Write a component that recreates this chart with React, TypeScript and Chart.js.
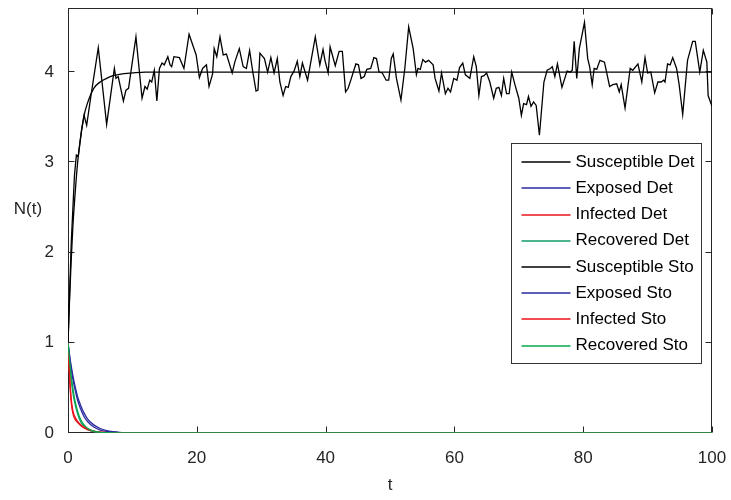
import React, { useEffect, useRef } from "react";
import { Chart, registerables } from "chart.js";

Chart.register(...registerables);

// ---- data ----
const xTicks = [0, 20, 40, 60, 80, 100];
const yTicks = [0, 1, 2, 3, 4];

const seriesLabels = [
  "Susceptible Det",
  "Exposed Det",
  "Infected Det",
  "Recovered Det",
  "Susceptible Sto",
  "Exposed Sto",
  "Infected Sto",
  "Recovered Sto",
];

// deterministic time grid
const tDet = [0, 0.25, 0.5, 0.75, 1, 1.5, 2, 2.5, 3, 4, 5, 6, 7, 8, 10, 12, 15, 20, 50, 100];
const sDet = [1, 1.5, 1.92, 2.28, 2.55, 3.0, 3.3, 3.52, 3.65, 3.82, 3.89, 3.93, 3.96, 3.975, 3.99, 4.0, 4.0, 4.0, 4.0, 4.0];
const eDet = [1, 0.84, 0.71, 0.6, 0.51, 0.36, 0.26, 0.18, 0.13, 0.066, 0.033, 0.017, 0.009, 0.004, 0.001, 0, 0, 0, 0, 0];
const iDet = [1, 0.6, 0.34, 0.22, 0.165, 0.115, 0.08, 0.055, 0.038, 0.018, 0.009, 0.004, 0.002, 0.001, 0, 0, 0, 0, 0, 0];
const rDet = [1, 0.77, 0.59, 0.45, 0.35, 0.21, 0.12, 0.072, 0.043, 0.015, 0.005, 0.002, 0.001, 0, 0, 0, 0, 0, 0, 0];

// stochastic E/I/R (same grid)
const eSto = [1, 0.86, 0.74, 0.64, 0.55, 0.4, 0.3, 0.22, 0.16, 0.09, 0.05, 0.027, 0.015, 0.008, 0.002, 0, 0, 0, 0, 0];
const iSto = [1, 0.64, 0.38, 0.25, 0.19, 0.13, 0.09, 0.062, 0.042, 0.02, 0.01, 0.005, 0.002, 0.001, 0, 0, 0, 0, 0, 0];
const rSto = [1, 0.8, 0.63, 0.5, 0.39, 0.24, 0.145, 0.09, 0.055, 0.02, 0.008, 0.003, 0.001, 0, 0, 0, 0, 0, 0, 0];

// stochastic susceptible path
const tSto = [
  0, 0.5, 1.0, 1.3, 1.6, 2.1, 2.5, 2.9, 3.55, 4.7, 6.0, 7.2, 7.45, 7.8, 8.6, 9.0, 9.4, 10.55, 11.5, 11.95,
  12.3, 12.7, 13.0, 13.4, 13.8, 14.2, 14.6, 14.95, 15.5, 15.85, 16.1, 16.45, 17.3, 18.0, 18.8, 19.9, 20.4, 20.9, 21.5, 21.9,
  22.45, 22.7, 23.1, 23.6, 24.1, 24.6, 25.5, 25.9, 26.6, 27.2, 27.7, 28.2, 28.7, 29.2, 29.5, 29.8, 30.5, 31.0, 31.5, 32.0,
  32.5, 32.9, 33.4, 33.8, 34.2, 34.6, 35.1, 35.6, 36.0, 36.4, 37.2, 37.7, 38.4, 39.1, 39.6, 39.9, 40.4, 40.7, 41.5, 42.1,
  42.6, 43.1, 43.5, 44.0, 44.7, 45.1, 45.5, 46.0, 46.4, 47.0, 47.5, 47.9, 48.3, 48.8, 49.4, 49.8, 50.2, 50.5, 51.0, 51.7,
  52.3, 52.9, 53.6, 54.1, 54.35, 54.7, 55.1, 55.5, 56.0, 56.7, 57.0, 57.6, 58.0, 58.6, 59.0, 59.4, 59.9, 60.4, 60.8, 61.3,
  61.7, 62.4, 63.0, 63.4, 63.8, 64.2, 64.6, 65.0, 65.5, 66.1, 66.5, 66.9, 67.3, 67.65, 68.1, 68.5, 68.9, 69.4, 70.0, 70.4,
  70.75, 71.2, 71.5, 71.9, 72.3, 72.7, 73.2, 73.9, 74.4, 74.9, 75.2, 75.6, 76.0, 76.7, 77.5, 78.0, 78.3, 78.6, 79.0, 79.4,
  80.2, 80.7, 81.0, 81.4, 81.7, 82.1, 82.6, 83.3, 84.1, 84.6, 85.2, 85.6, 85.9, 86.5, 87.3, 87.7, 88.5, 89.1, 89.6, 90.0,
  90.5, 91.1, 91.6, 92.1, 92.5, 92.7, 93.1, 93.5, 93.9, 94.5, 94.9, 95.45, 96.2, 97.0, 97.4, 98.1, 98.65, 99.2, 99.4, 100,
];
const sSto = [
  1, 2.1, 2.85, 3.08, 3.07, 3.35, 3.52, 3.41, 3.73, 4.27, 3.42, 4.04, 3.93, 3.95, 3.68, 3.8, 3.82, 4.39, 3.71, 3.84,
  3.81, 3.91, 3.89, 4.02, 3.68, 4.04, 4.1, 4.08, 4.17, 4.08, 4.06, 4.17, 4.16, 4.04, 4.42, 4.19, 3.94, 4.04, 4.08, 3.84,
  3.98, 4.26, 4.17, 4.39, 4.19, 4.2, 3.99, 4.11, 4.26, 4.06, 4.04, 4.24, 4.0, 3.79, 3.8, 4.21, 4.15, 4.0, 4.16, 3.99,
  4.15, 3.89, 3.74, 3.84, 3.83, 3.95, 4.01, 4.12, 3.95, 4.1, 3.91, 4.11, 4.39, 4.08, 4.25, 4.13, 3.99, 4.28, 4.07, 4.23,
  4.23, 3.78, 3.82, 3.93, 4.09, 4.08, 3.93, 3.95, 4.03, 4.04, 4.16, 4.15, 4.0, 3.99, 3.91, 3.91, 4.15, 4.2, 3.93, 3.69,
  4.04, 4.5, 4.26, 3.97, 4.04, 4.03, 4.14, 4.11, 4.13, 4.08, 3.93, 3.79, 3.99, 3.76, 3.82, 3.78, 3.93, 3.91, 4.05, 4.1,
  3.97, 3.93, 4.17, 4.06, 3.74, 3.95, 3.96, 3.99, 3.89, 3.71, 3.82, 3.83, 3.74, 3.93, 3.76, 3.76, 4.0, 3.86, 3.71, 3.52,
  3.65, 3.64, 3.73, 3.62, 3.67, 3.63, 3.3, 3.89, 4.02, 4.04, 4.06, 3.95, 4.09, 3.83, 4.01, 4.0, 4.02, 4.34, 3.93, 4.26,
  4.55, 4.15, 4.06, 3.86, 4.04, 4.03, 4.13, 4.11, 3.84, 3.86, 3.87, 3.78, 3.86, 3.6, 4.04, 4.02, 4.09, 3.89, 4.16, 3.99,
  4.0, 3.77, 3.89, 3.89, 3.91, 3.89, 4.09, 4.08, 4.16, 4.04, 3.86, 3.53, 4.13, 4.34, 4.34, 4.0, 4.24, 4.11, 3.74, 3.62,
];

const colors = ["#000000", "#2a2aa0", "#e8141c", "#129b68", "#000000", "#2a2aa0", "#ee1018", "#06a84a"];

const FONT = "'Liberation Sans', Arial, Helvetica, sans-serif";
const TEXT = "#262626";

const zip = (xs: number[], ys: number[]) => xs.map((x, i) => ({ x, y: ys[i] }));

const framePlugin = {
  id: "frame",
  beforeDatasetsDraw(chart: any) {
    const { ctx, chartArea } = chart;
    const l = Math.round(chartArea.left) + 0.5;
    const r = Math.round(chartArea.right) - 0.5;
    const t = Math.round(chartArea.top) + 0.5;
    const b = Math.round(chartArea.bottom) - 0.5;
    ctx.save();
    ctx.strokeStyle = TEXT;
    ctx.lineWidth = 1;
    ctx.strokeRect(l, t, r - l, b - t);
    const tl = 6;
    ctx.beginPath();
    const xs = chart.scales.x;
    xTicks.forEach((v) => {
      const px = Math.round(xs.getPixelForValue(v)) + 0.5;
      ctx.moveTo(px, b);
      ctx.lineTo(px, b - tl);
      ctx.moveTo(px, t);
      ctx.lineTo(px, t + tl);
    });
    const ys = chart.scales.y;
    yTicks.forEach((v) => {
      const py = Math.round(ys.getPixelForValue(v)) - 0.5;
      ctx.moveTo(l, py);
      ctx.lineTo(l + tl, py);
      ctx.moveTo(r, py);
      ctx.lineTo(r - tl, py);
    });
    ctx.stroke();
    ctx.restore();
  },
  afterDraw(chart: any) {
    const { ctx, chartArea } = chart;
    ctx.save();
    // axis titles
    ctx.fillStyle = TEXT;
    ctx.font = `17px ${FONT}`;
    ctx.textAlign = "center";
    ctx.textBaseline = "middle";
    ctx.fillText("t", (chartArea.left + chartArea.right) / 2, 485);
    ctx.fillText("N(t)", 28, 209);

    // legend box
    const lw = 190;
    const lh = 220;
    const lx = Math.round(chartArea.right) - 11 - lw + 0.5;
    const ly = Math.round(chartArea.top) + 135 + 0.5;
    ctx.fillStyle = "#ffffff";
    ctx.fillRect(lx, ly, lw, lh);
    ctx.strokeStyle = "#333333";
    ctx.lineWidth = 1;
    ctx.strokeRect(lx, ly, lw, lh);
    ctx.font = `17px ${FONT}`;
    ctx.textAlign = "left";
    ctx.textBaseline = "middle";
    chart.data.datasets.forEach((ds: any, i: number) => {
      const y = ly + 18.7 + i * 26.2;
      ctx.strokeStyle = colors[i];
      ctx.lineWidth = 1.6;
      ctx.beginPath();
      ctx.moveTo(lx + 10, Math.round(y));
      ctx.lineTo(lx + 59, Math.round(y));
      ctx.stroke();
      ctx.fillStyle = "#000000";
      ctx.fillText(ds.label, lx + 64, y);
    });
    ctx.restore();
  },
};

export default function App() {
  const ref = useRef<HTMLCanvasElement | null>(null);
  useEffect(() => {
    if (!ref.current) return;
    const datasets = [
      zip(tDet, sDet),
      zip(tDet, eDet),
      zip(tDet, iDet),
      zip(tDet, rDet),
      zip(tSto, sSto),
      zip(tDet, eSto),
      zip(tDet, iSto),
      zip(tDet, rSto),
    ].map((data, i) => ({
      label: seriesLabels[i],
      data,
      order: 8 - i,
      borderColor: colors[i],
      backgroundColor: colors[i],
      borderWidth: 1.3,
      pointRadius: 0,
      tension: i === 4 ? 0 : 0.3,
      cubicInterpolationMode: (i === 4 ? "default" : "monotone") as any,
      fill: false,
    }));

    const chart = new Chart(ref.current, {
      type: "line",
      data: { datasets },
      options: {
        animation: false,
        responsive: false,
        devicePixelRatio: 1,
        layout: { padding: { left: 0, top: 8, right: 19, bottom: 0 } },
        plugins: { legend: { display: false }, tooltip: { enabled: false } },
        scales: {
          x: {
            type: "linear",
            min: 0,
            max: 100,
            grid: { display: false },
            border: { display: false },
            afterBuildTicks: (s: any) => {
              s.ticks = xTicks.map((v) => ({ value: v }));
            },
            afterFit: (s: any) => {
              s.height = 67;
              s.paddingLeft = 0;
              s.paddingRight = 0;
            },
            ticks: {
              color: TEXT,
              font: { family: FONT, size: 17 },
              padding: 7,
              maxRotation: 0,
              autoSkip: false,
            },
          },
          y: {
            type: "linear",
            min: 0,
            max: 4.71,
            grid: { display: false },
            border: { display: false },
            afterBuildTicks: (s: any) => {
              s.ticks = yTicks.map((v) => ({ value: v }));
            },
            afterFit: (s: any) => {
              s.width = 68;
              s.paddingTop = 0;
              s.paddingBottom = 0;
            },
            ticks: {
              color: TEXT,
              font: { family: FONT, size: 17 },
              padding: 6,
              autoSkip: false,
            },
          },
        },
      },
      plugins: [framePlugin],
    });
    return () => chart.destroy();
  }, []);

  return (
    <div style={{ position: "absolute", left: 0, top: 0, width: 731, height: 500, background: "#fff" }}>
      <canvas ref={ref} width={731} height={500} />
    </div>
  );
}
